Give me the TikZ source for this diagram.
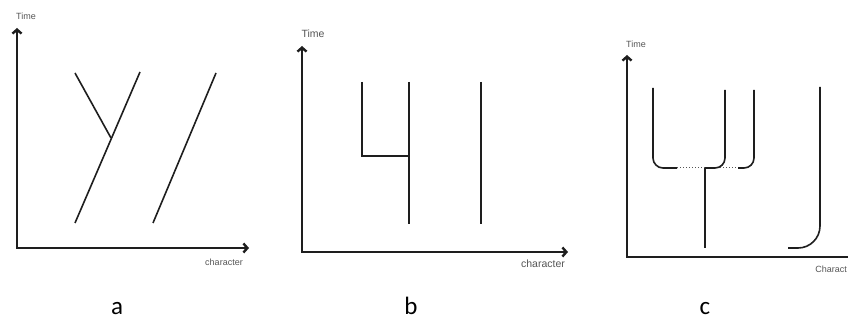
\documentclass[tikz,border=0pt]{standalone}
\usepackage{fontspec}
\setmainfont{Carlito}
\newfontfamily\axfont{Liberation Sans}
\usetikzlibrary{arrows.meta}
\definecolor{TrLine}{HTML}{1E1E1E}
\definecolor{TrLabel}{HTML}{555555}

\begin{document}
\begin{tikzpicture}[x=1pt,y=-1pt,
  axis/.style={TrLine,line width=2.4pt,{Straight Barb[length=4pt,width=9pt]}-{Straight Barb[length=4pt,width=9pt]}},
  branch/.style={TrLine,line width=1.6pt},
  gap/.style={TrLabel,line width=1pt,dotted},
  axlabel/.style={TrLabel,font=\axfont\fontsize{9}{10}\selectfont},
  panel/.style={font=\fontsize{25}{28}\selectfont,anchor=base,inner sep=0pt}]
\path[use as bounding box] (0,0) rectangle (848,320);
% panel a
\coordinate (topA) at (17,28);
\coordinate (oA) at (17,248);
\coordinate (endA) at (249,248);
\draw[axis] (topA) -- (oA) -- (endA);
\node[axlabel] (timeA) at (26,16) {Time};
\node[axlabel] (charA) at (224,262) {character};
\draw[branch] (75,223) -- (140,72);
\draw[branch] (111,138) -- (75,73);
\draw[branch] (153,223) -- (216,73);
\node[panel] (labA) at (117,314) {a};
% panel b
\coordinate (topB) at (302,46);
\coordinate (oB) at (302,252);
\coordinate (endB) at (568,252);
\draw[axis] (topB) -- (oB) -- (endB);
\node[axlabel,font=\axfont\fontsize{10.5}{12}\selectfont] (timeB) at (313,34) {Time};
\node[axlabel,font=\axfont\fontsize{10.5}{12}\selectfont] (charB) at (543,264) {character};
\draw[branch] (362,82) -- (362,156) -- (409,156);
\draw[branch] (409,82) -- (409,224);
\draw[branch] (481,82) -- (481,224);
\node[panel] (labB) at (411,314) {b};
% panel c
\coordinate (topC) at (627,55);
\coordinate (oC) at (627,257);
\coordinate (endC) at (870,257);
\draw[axis] (topC) -- (oC) -- (endC);
\node[axlabel] (timeC) at (636,44) {Time};
\node[axlabel,anchor=east,inner xsep=1pt] (charC) at (848,269) {Charact};
\draw[branch,rounded corners=10pt] (653,88) -- (653,168) -- (677,168);
\draw[gap] (677,168) -- (705,168);
\draw[branch,rounded corners=10pt] (725,90) -- (725,168) -- (705,168);
\draw[branch] (705,168) -- (705,248);
\draw[gap] (720,168) -- (738,168);
\draw[branch,rounded corners=10pt] (754,90) -- (754,168) -- (738,168);
\draw[branch,rounded corners=22pt] (820,87) -- (820,248) -- (788,248);
\node[panel] (labC) at (705,314) {c};
\end{tikzpicture}
\end{document}
